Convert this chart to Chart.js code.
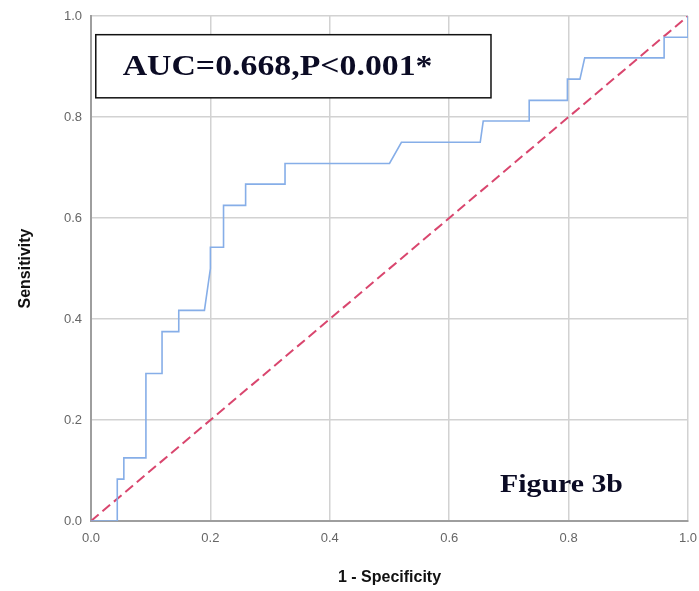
<!DOCTYPE html>
<html>
<head>
<meta charset="utf-8">
<script src="https://cdn.jsdelivr.net/npm/chart.js@4.4.1/dist/chart.umd.min.js"></script>
<style>
  html, body { margin: 0; padding: 0; background: #fff; }
  #wrap { width: 699px; height: 591px; position: relative; }
</style>
</head>
<body>
<div id="wrap"><canvas id="c" width="699" height="591"></canvas></div>
<script>
// ROC curve points (1 - Specificity, Sensitivity)
const rocX = [0, 0.044, 0.044, 0.055, 0.055, 0.092, 0.092, 0.119, 0.119, 0.147, 0.147, 0.19, 0.2, 0.2, 0.222, 0.222, 0.259, 0.259, 0.325, 0.325, 0.5, 0.52, 0.652, 0.657, 0.734, 0.734, 0.798, 0.798, 0.819, 0.827, 0.96, 0.96, 1, 1];
const rocY = [0, 0, 0.083, 0.083, 0.125, 0.125, 0.292, 0.292, 0.375, 0.375, 0.417, 0.417, 0.5, 0.542, 0.542, 0.625, 0.625, 0.667, 0.667, 0.708, 0.708, 0.75, 0.75, 0.792, 0.792, 0.833, 0.833, 0.875, 0.875, 0.917, 0.917, 0.958, 0.958, 1];
const refX = [0, 1];
const refY = [0, 1];
const tickValues = [0, 0.2, 0.4, 0.6, 0.8, 1.0];
const xTitle = '1 - Specificity';
const yTitle = 'Sensitivity';
const aucLabel = 'AUC=0.668,P<0.001*';
const figLabel = 'Figure 3b';

const rocPoints = rocX.map((x, i) => ({x: x, y: rocY[i]}));
const refPoints = refX.map((x, i) => ({x: x, y: refY[i]}));

function stretchedText(ctx, text, x, y, font, targetWidth) {
  ctx.save();
  ctx.font = font;
  const w = ctx.measureText(text).width;
  const k = targetWidth / w;
  ctx.translate(x, y);
  ctx.scale(k, 1);
  ctx.fillText(text, 0, 0);
  ctx.restore();
}

const annotations = {
  id: 'annotations',
  beforeDatasetsDraw(chart) {
    const ctx = chart.ctx;
    const xs = chart.scales.x, ys = chart.scales.y;
    // AUC box
    const x0 = xs.getPixelForValue(0.008), x1 = xs.getPixelForValue(0.67);
    const y0 = ys.getPixelForValue(0.963), y1 = ys.getPixelForValue(0.838);
    ctx.save();
    ctx.fillStyle = '#fff';
    ctx.fillRect(x0, y0, x1 - x0, y1 - y0);
    ctx.strokeStyle = '#111';
    ctx.lineWidth = 1.5;
    ctx.strokeRect(x0, y0, x1 - x0, y1 - y0);
    ctx.fillStyle = '#0b0b24';
    ctx.textBaseline = 'alphabetic';
    ctx.textAlign = 'left';
    const aucX0 = xs.getPixelForValue(0.053), aucX1 = xs.getPixelForValue(0.572);
    stretchedText(ctx, aucLabel, aucX0, ys.getPixelForValue(0.883),
      'bold 29px "Liberation Serif", "Times New Roman", serif', aucX1 - aucX0);
    const figX0 = xs.getPixelForValue(0.685), figX1 = xs.getPixelForValue(0.891);
    stretchedText(ctx, figLabel, figX0, ys.getPixelForValue(0.057),
      'bold 25px "Liberation Serif", "Times New Roman", serif', figX1 - figX0);
    ctx.restore();
  }
};

new Chart(document.getElementById('c'), {
  type: 'scatter',
  data: {
    datasets: [
      {
        data: rocPoints,
        showLine: true,
        borderColor: '#86aee8',
        borderWidth: 1.6,
        pointRadius: 0,
        fill: false,
        tension: 0
      },
      {
        data: refPoints,
        showLine: true,
        borderColor: '#d9466e',
        borderWidth: 2,
        borderDash: [10, 5],
        pointRadius: 0,
        fill: false
      }
    ]
  },
  options: {
    responsive: false,
    animation: false,
    layout: { padding: { top: 16, right: 11, left: 0, bottom: 0 } },
    plugins: { legend: { display: false }, tooltip: { enabled: false } },
    scales: {
      x: {
        type: 'linear', min: 0, max: 1,
        afterBuildTicks: s => { s.ticks = tickValues.map(v => ({value: v})); },
        afterFit: s => { s.height = 70; s.paddingLeft = 0; s.paddingRight = 0; },
        ticks: {
          callback: v => v.toFixed(1),
          color: '#666666',
          font: { family: '"Liberation Sans", Arial, sans-serif', size: 13 },
          padding: 10,
          maxRotation: 0
        },
        grid: { color: '#d2d2d2', lineWidth: 1.5, drawTicks: false },
        border: { color: '#9e9e9e', width: 2 },
        title: {
          display: true, text: xTitle, color: '#111',
          font: { family: '"Liberation Sans", Arial, sans-serif', size: 16, weight: 'bold' },
          padding: { top: 4, bottom: 4 }
        }
      },
      y: {
        type: 'linear', min: 0, max: 1,
        afterBuildTicks: s => { s.ticks = tickValues.map(v => ({value: v})); },
        afterFit: s => { s.width = 91; s.paddingTop = 0; s.paddingBottom = 0; },
        ticks: {
          callback: v => v.toFixed(1),
          color: '#666666',
          font: { family: '"Liberation Sans", Arial, sans-serif', size: 13 },
          padding: 9
        },
        grid: { color: '#d2d2d2', lineWidth: 1.5, drawTicks: false },
        border: { color: '#9e9e9e', width: 2 },
        title: {
          display: true, text: yTitle, color: '#111',
          font: { family: '"Liberation Sans", Arial, sans-serif', size: 16, weight: 'bold' },
          padding: { top: 16, bottom: 4 }
        }
      }
    }
  },
  plugins: [annotations]
});
</script>
</body>
</html>
